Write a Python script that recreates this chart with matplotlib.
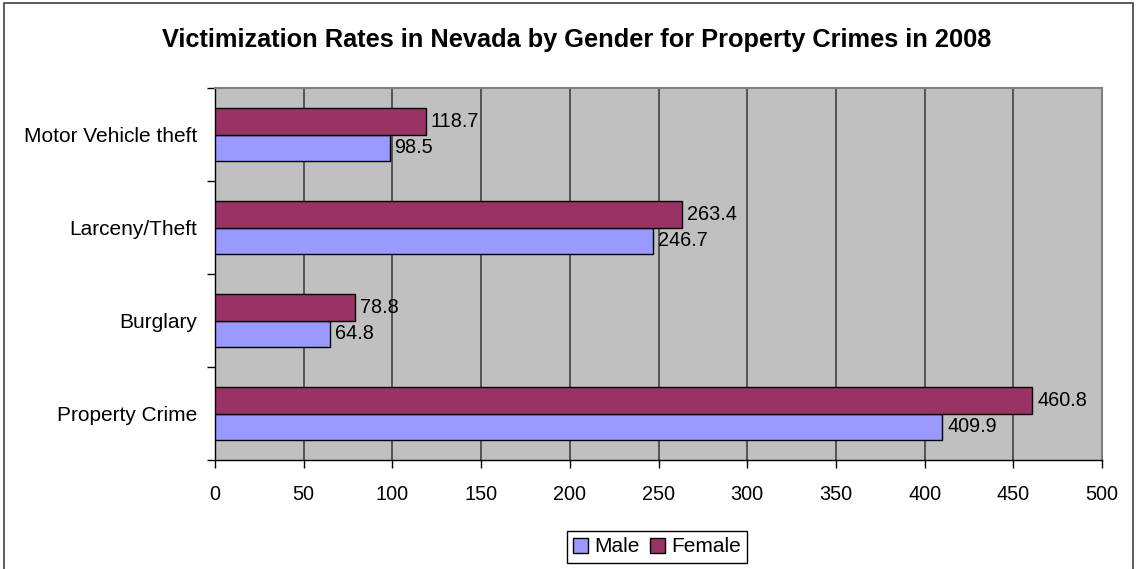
import numpy as np
import matplotlib
matplotlib.use("Agg")
import matplotlib.pyplot as plt
from matplotlib.patches import Rectangle, Patch

plt.rcParams['font.family'] = ['Liberation Sans', 'DejaVu Sans']

# data
categories = ["Property Crime", "Burglary", "Larceny/Theft", "Motor Vehicle theft"]
male = [409.9, 64.8, 246.7, 98.5]
female = [460.8, 78.8, 263.4, 118.7]
x_ticks = [0, 50, 100, 150, 200, 250, 300, 350, 400, 450, 500]
title = "Victimization Rates in Nevada by Gender for Property Crimes in 2008"

male_color = "#9999FF"
female_color = "#993366"

fig = plt.figure(figsize=(11.36, 5.69), dpi=100)
ax = fig.add_axes([215 / 1136, 1 - 460 / 569, (1102 - 215) / 1136, (460 - 88) / 569])

# outer chart border
fig.patches.append(Rectangle((4 / 1136, -0.02), 1129 / 1136, 1 - 3 / 569 + 0.02,
                             transform=fig.transFigure, fill=False,
                             edgecolor="#404040", linewidth=1.2))

y = np.arange(len(categories))
h = 0.28
ax.barh(y - h / 2, male, height=h, color=male_color, edgecolor="black", linewidth=1, zorder=3)
ax.barh(y + h / 2, female, height=h, color=female_color, edgecolor="black", linewidth=1, zorder=3)

for yi, v in zip(y, male):
    ax.annotate(f"{v}", (v, yi - h / 2), xytext=(3.5, 0), textcoords="offset points",
                va="center", ha="left", fontsize=14.3)
for yi, v in zip(y, female):
    ax.annotate(f"{v}", (v, yi + h / 2), xytext=(3.5, 0), textcoords="offset points",
                va="center", ha="left", fontsize=14.3)

ax.set_facecolor("#C0C0C0")
ax.set_xlim(0, 500)
ax.set_ylim(-0.5, len(categories) - 0.5)
ax.set_xticks(x_ticks)
ax.set_xticklabels([str(t) for t in x_ticks], fontsize=14.3)
ax.xaxis.grid(True, color="#404040", linewidth=1.2, zorder=1)
ax.set_axisbelow(True)

# category labels at centres, tick marks at boundaries
ax.set_yticks(y)
ax.set_yticklabels(categories, fontsize=15)
ax.tick_params(axis="y", length=0, pad=13)
ax.set_yticks(np.arange(-0.5, len(categories)), minor=True)
ax.tick_params(axis="y", which="minor", length=6, width=1, direction="out")
ax.tick_params(axis="x", length=6, width=1, direction="out", pad=12)

for side in ["top", "right"]:
    ax.spines[side].set_color("#808080")
    ax.spines[side].set_linewidth(1.5)
for side in ["left", "bottom"]:
    ax.spines[side].set_color("black")
    ax.spines[side].set_linewidth(1)

fig.text(577 / 1136, 1 - 40 / 569, title, ha="center", va="center", fontsize=18.3, fontweight="bold")

handles = [Patch(facecolor=male_color, edgecolor="black", label="Male"),
           Patch(facecolor=female_color, edgecolor="black", label="Female")]
fig.legend(handles=handles, loc="center", bbox_to_anchor=(657 / 1136, 1 - 547 / 569),
           ncol=2, fontsize=15, frameon=True, fancybox=False, edgecolor="black",
           framealpha=1, handlelength=0.7, handleheight=0.7, handletextpad=0.3,
           columnspacing=0.5, borderpad=0.3, borderaxespad=0)

plt.savefig("out.png", dpi=100)
